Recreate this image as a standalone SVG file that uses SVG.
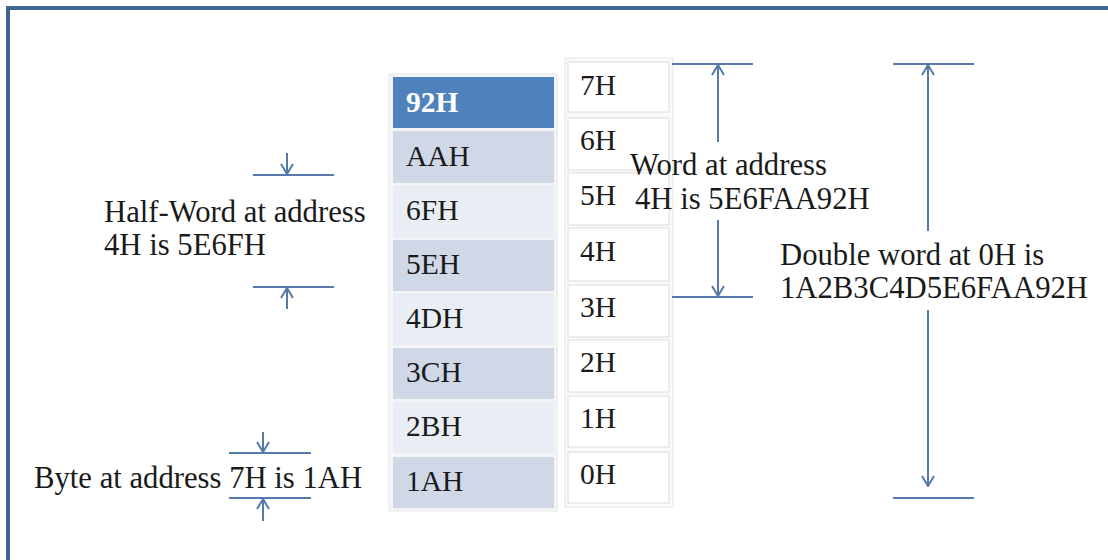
<svg xmlns="http://www.w3.org/2000/svg" width="1108" height="560" viewBox="0 0 1108 560">
<defs>
<style>
.t{font-family:"Liberation Serif","Times New Roman",serif;font-size:30.7px;fill:#1a1a1a}
.c{font-family:"Liberation Serif","Times New Roman",serif;font-size:29.5px;fill:#1a1a1a}
.d{fill:#D0D8E8}
.l{fill:#E9EDF4}
.a{fill:#fff;stroke:#E2E2E2;stroke-width:1.2}
.ln{stroke:#5479AA;stroke-width:2;fill:none}
</style>
<marker id="ah" viewBox="0 0 12 14" refX="11" refY="7" markerWidth="12" markerHeight="14" markerUnits="userSpaceOnUse" orient="auto">
<path d="M1,1 L11,7 L1,13" fill="none" stroke="#5479AA" stroke-width="2"/>
</marker>
</defs>
<rect x="0" y="0" width="1108" height="560" fill="#fff"/>
<rect x="9" y="9" width="1120" height="580" fill="none" stroke="#B8B8B8" stroke-width="2"/>
<rect x="8" y="8" width="1120" height="580" fill="none" stroke="#3E6594" stroke-width="4"/>

<g id="values">
<rect x="389" y="74" width="168" height="437" fill="#F4F5F7" stroke="#E6E6E6"/>
<g id="v92"><rect x="393" y="77" width="161" height="51" fill="#4F81BD"/><text x="406" y="112" class="c" style="font-weight:bold;fill:#fff">92H</text></g>
<g id="vAA"><rect x="393" y="131" width="161" height="52" class="d"/><text x="406" y="166" class="c">AAH</text></g>
<g id="v6F"><rect x="393" y="185" width="161" height="53" class="l"/><text x="406" y="220" class="c">6FH</text></g>
<g id="v5E"><rect x="393" y="240" width="161" height="51" class="d"/><text x="406" y="274" class="c">5EH</text></g>
<g id="v4D"><rect x="393" y="293" width="161" height="52" class="l"/><text x="406" y="328" class="c">4DH</text></g>
<g id="v3C"><rect x="393" y="348" width="161" height="51" class="d"/><text x="406" y="382" class="c">3CH</text></g>
<g id="v2B"><rect x="393" y="402" width="161" height="51" class="l"/><text x="406" y="436" class="c">2BH</text></g>
<g id="v1A"><rect x="393" y="457" width="161" height="51" class="d"/><text x="406" y="491" class="c">1AH</text></g>
</g>

<g id="addresses">
<rect x="565" y="58" width="108" height="449" fill="#FAFAFA" stroke="#E6E6E6"/>
<g id="a7"><rect x="568" y="62" width="101" height="50" class="a"/><text x="580" y="95" class="c">7H</text></g>
<g id="a6"><rect x="568" y="118" width="101" height="52" class="a"/><text x="580" y="150" class="c">6H</text></g>
<g id="a5"><rect x="568" y="173" width="101" height="52" class="a"/><text x="580" y="205" class="c">5H</text></g>
<g id="a4"><rect x="568" y="228" width="101" height="53" class="a"/><text x="580" y="261" class="c">4H</text></g>
<g id="a3"><rect x="568" y="285" width="101" height="52" class="a"/><text x="580" y="317" class="c">3H</text></g>
<g id="a2"><rect x="568" y="340" width="101" height="52" class="a"/><text x="580" y="372" class="c">2H</text></g>
<g id="a1"><rect x="568" y="396" width="101" height="51" class="a"/><text x="580" y="428" class="c">1H</text></g>
<g id="a0"><rect x="568" y="452" width="101" height="51" class="a"/><text x="580" y="484" class="c">0H</text></g>
</g>

<g id="connectors">
<line x1="253" y1="175" x2="334" y2="175" class="ln"/>
<line x1="287" y1="153" x2="287" y2="174" class="ln" marker-end="url(#ah)"/>
<line x1="253" y1="287" x2="334" y2="287" class="ln"/>
<line x1="287" y1="309" x2="287" y2="288" class="ln" marker-end="url(#ah)"/>

<line x1="229" y1="453" x2="311" y2="453" class="ln"/>
<line x1="263" y1="432" x2="263" y2="452" class="ln" marker-end="url(#ah)"/>
<line x1="229" y1="498" x2="311" y2="498" class="ln"/>
<line x1="263" y1="521" x2="263" y2="499" class="ln" marker-end="url(#ah)"/>

<line x1="672" y1="64" x2="753" y2="64" class="ln"/>
<line x1="718" y1="142" x2="718" y2="65" class="ln" marker-end="url(#ah)"/>
<line x1="672" y1="297" x2="753" y2="297" class="ln"/>
<line x1="718" y1="220" x2="718" y2="296" class="ln" marker-end="url(#ah)"/>

<line x1="893" y1="64" x2="974" y2="64" class="ln"/>
<line x1="928" y1="231" x2="928" y2="65" class="ln" marker-end="url(#ah)"/>
<line x1="893" y1="498" x2="974" y2="498" class="ln"/>
<line x1="928" y1="310" x2="928" y2="486" class="ln" marker-end="url(#ah)"/>
</g>

<g id="labels">
<g id="halfword"><text x="104" y="222" class="t">Half-Word at address</text><text x="104" y="255" class="t">4H is 5E6FH</text></g>
<g id="byte"><text x="34" y="488" class="t">Byte at address 7H is 1AH</text></g>
<g id="word"><text x="630" y="175" class="t">Word at address</text><text x="635" y="209" class="t">4H is 5E6FAA92H</text></g>
<g id="dword"><text x="780" y="265" class="t">Double word at 0H is</text><text x="780" y="298" class="t">1A2B3C4D5E6FAA92H</text></g>
</g>
</svg>
